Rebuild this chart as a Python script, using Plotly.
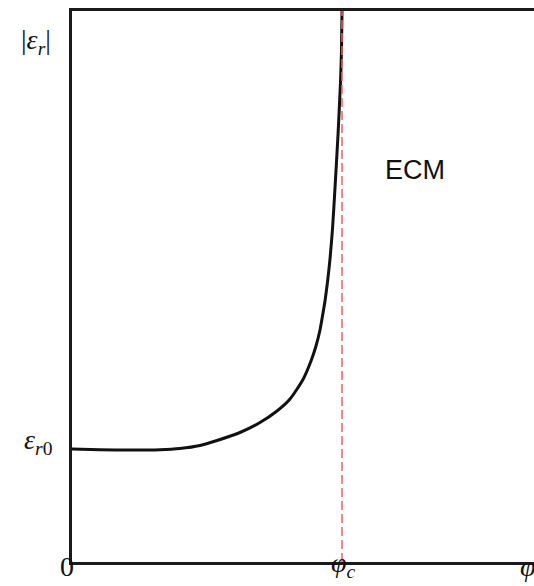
import plotly.graph_objects as go

# Permittivity magnitude vs. filler fraction (arbitrary units),
# rising sharply towards the percolation threshold phi_c
phi = [0, 28, 58, 88, 108, 128, 145, 168, 188, 205, 218, 231, 239, 244, 248,
       251, 253, 255.5, 258, 260.5, 263, 266, 268.5, 269.5, 270]
eps = [113, 112.3, 112, 112.3, 113.5, 116.5, 121.5, 129.5, 139.5, 151, 163, 182.5,
       201, 216, 232, 249, 261, 280, 303, 333, 374, 427, 480, 512, 551]

phi_c = 270
phi_max = 462
eps_max = 551

serif = "Liberation Serif"
math_font = dict(family=serif, size=28, color="#111111")

fig = go.Figure()

fig.add_trace(go.Scatter(
    x=phi, y=eps, mode="lines",
    line=dict(color="#111111", width=3, shape="spline", smoothing=0.6),
    hoverinfo="skip", showlegend=False,
))

fig.add_trace(go.Scatter(
    x=[phi_c, phi_c], y=[0, eps_max], mode="lines",
    line=dict(color="#e8646a", width=1.5, dash="9px,4px"),
    hoverinfo="skip", showlegend=False,
))

annotations = [
    dict(x=-0.041, y=0.945, xref="paper", yref="paper", xanchor="right", yanchor="middle",
         text="|<i>ε</i><sub><i>r</i></sub>|", showarrow=False, font=math_font),
    dict(x=-0.037, y=0.218, xref="paper", yref="paper", xanchor="right", yanchor="middle",
         text="<i>ε</i><sub><i>r</i>0</sub>", showarrow=False, font=math_font),
    dict(x=-0.011, y=-0.009, xref="paper", yref="paper", xanchor="center", yanchor="middle",
         text="0", showarrow=False, font=math_font),
    dict(x=0.5866, y=-0.040, xref="paper", yref="paper", xanchor="center", yanchor="bottom",
         text="<i>φ</i><sub><i>c</i></sub>", showarrow=False, font=math_font),
    dict(x=0.987, y=-0.040, xref="paper", yref="paper", xanchor="center", yanchor="bottom",
         text="<i>φ</i>", showarrow=False, font=math_font),
    dict(x=0.742, y=0.711, xref="paper", yref="paper", xanchor="center", yanchor="middle",
         text="ECM", showarrow=False,
         font=dict(family="Liberation Sans", size=27, color="#111111")),
]

fig.update_layout(
    width=534, height=586,
    margin=dict(l=72, r=0, t=11, b=24),
    paper_bgcolor="white", plot_bgcolor="white",
    annotations=annotations,
    xaxis=dict(range=[0, phi_max], showgrid=False, zeroline=False, showticklabels=False,
               ticks="", showline=True, linecolor="#1a1a1a", linewidth=2.5, mirror=True),
    yaxis=dict(range=[0, eps_max], showgrid=False, zeroline=False, showticklabels=False,
               ticks="", showline=True, linecolor="#1a1a1a", linewidth=2.5),
)

fig.write_html("out.html")
